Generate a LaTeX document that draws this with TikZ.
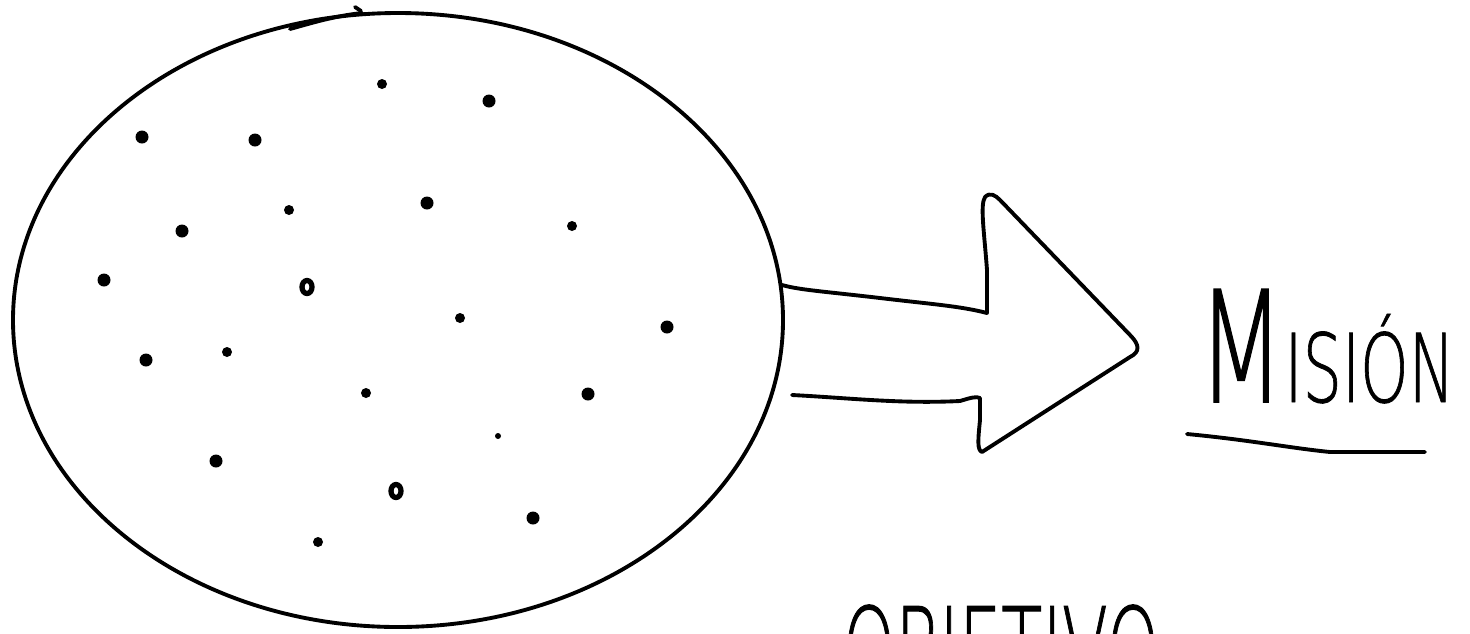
\documentclass[tikz,border=0pt]{standalone}
\usepackage{fontspec}
\newfontfamily\hand[FakeBold=1]{DejaVu Sans ExtraLight}
\begin{document}
\begin{tikzpicture}[x=0.01cm,y=-0.01cm,
  pen/.style={line width=1.1pt,line cap=round,line join=round,black},
  dot/.style={fill=black},
  hollowdot/.style={draw=black,line width=1.5pt}]
\useasboundingbox (0,0) rectangle (1470,633);
\clip (0,0) rectangle (1470,633);
% big circle
\draw[pen] (398,320) ellipse [x radius=385, y radius=307];
\draw[pen] (290,29) .. controls (315,22) and (335,16) .. (362,13);
\draw[pen] (355,7) -- (361,11);
% dots
\foreach \p in {(142,137),(255,140),(489,101),(427,203),
  (182,231),(104,280),(667,327),(146,360),
  (588,394),(216,461),(533,518)}
  \fill[dot] \p circle[radius=6.5];
\foreach \p in {(382,84),(289,210),(572,226),(460,318),(227,352),(366,393),(318,542)}
  \fill[dot] \p circle[radius=5];
\fill[dot] (498,436) circle[radius=3];
\draw[hollowdot] (307,287) ellipse[x radius=5, y radius=6.5];
\draw[hollowdot] (396,491) ellipse[x radius=5, y radius=6.5];
% arrow
\draw[pen] (782,285) .. controls (800,290) and (820,291) .. (880,298)
  .. controls (930,304) and (960,306) .. (987,313)
  -- (987,270) .. controls (984,230) and (980,205) .. (985,197)
  .. controls (990,192) and (995,195) .. (1000,200)
  -- (1130,335) .. controls (1140,345) and (1140,352) .. (1130,357)
  -- (982,452) .. controls (977,450) and (978,440) .. (980,420)
  -- (980,398) .. controls (976,396) and (970,398) .. (960,401)
  .. controls (900,404) and (850,398) .. (792,395);
% labels
\node[anchor=base west,inner sep=0pt] (mision) at (1197,402)
  {\hand\scalebox{0.65}[1]{\fontsize{44pt}{44pt}\selectfont M\fontsize{27pt}{27pt}\selectfont ISIÓN}};
\draw[pen] (1187,434) .. controls (1250,440) and (1290,448) .. (1330,452) -- (1425,452);
\node[anchor=north west,inner sep=0pt] (objetivo) at (842,604)
  {\hand\fontsize{34pt}{34pt}\selectfont\scalebox{0.56}[1]{OBJETIVO}};
\end{tikzpicture}
\end{document}
